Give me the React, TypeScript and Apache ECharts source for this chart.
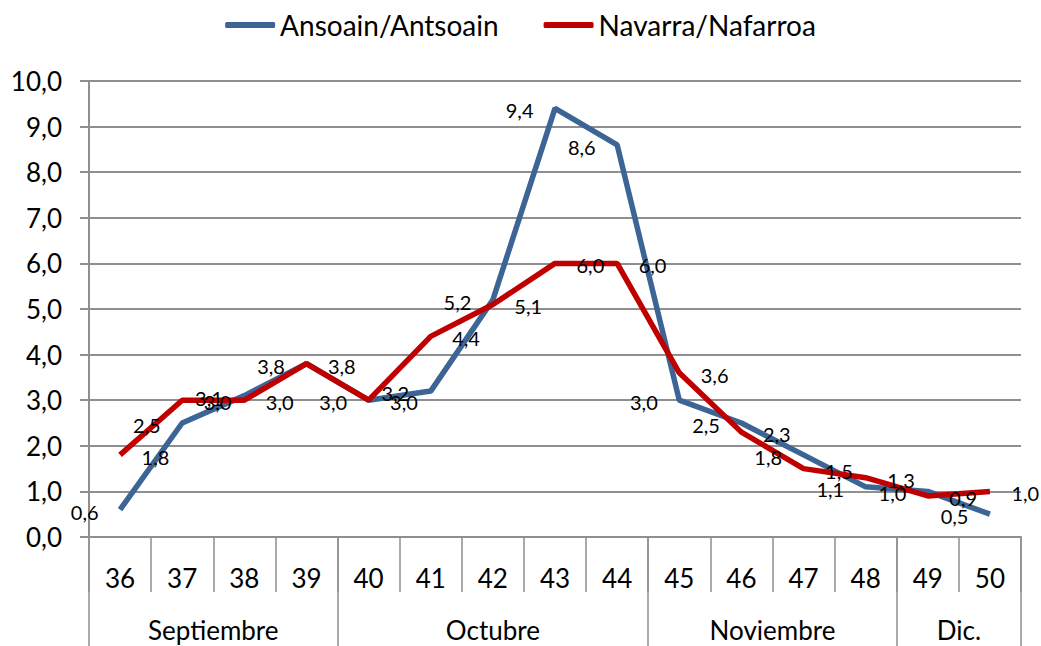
import React, { useEffect, useRef } from "react";
import * as echarts from "echarts";

const weeks = ["36", "37", "38", "39", "40", "41", "42", "43", "44", "45", "46", "47", "48", "49", "50"];
const months = ["Septiembre", "Octubre", "Noviembre", "Dic."];
// number of weeks in each month group
const monthSpans = [4, 5, 4, 2];
const ansoain = [0.6, 2.5, 3.1, 3.8, 3.0, 3.2, 5.2, 9.4, 8.6, 3.0, 2.5, 1.8, 1.1, 1.0, 0.5];
const navarra = [1.8, 3.0, 3.0, 3.8, 3.0, 4.4, 5.1, 6.0, 6.0, 3.6, 2.3, 1.5, 1.3, 0.9, 1.0];
const seriesNames = ["Ansoain/Antsoain", "Navarra/Nafarroa"];
const seriesColors = ["#3C6596", "#C00000"];

const FONT = "Lato, 'Noto Sans', sans-serif";
const GRID_COLOR = "#8f8f8f";
const fmt = (v: number) => v.toFixed(1).replace(".", ",");

export default function App() {
  const ref = useRef<HTMLDivElement>(null);
  useEffect(() => {
    if (!ref.current) return;
    const chart = echarts.init(ref.current, null, { renderer: "svg" });
    const boundaries: number[] = [0];
    monthSpans.forEach((s) => boundaries.push(boundaries[boundaries.length - 1] + s));
    const centers: number[] = [];
    const centerName: Record<string, string> = {};
    monthSpans.forEach((s, i) => {
      const c = boundaries[i] + s / 2;
      centers.push(c);
      centerName[String(c)] = months[i];
    });
    const labelCommon = {
      show: true,
      distance: 21,
      offset: [0, 2],
      fontFamily: FONT,
      fontSize: 20,
      color: "#000",
      opacity: 1,
      formatter: (p: any) => fmt(p.value),
    };
    const mkSeries = (i: number, data: number[], pos: string) => ({
      name: seriesNames[i],
      type: "line",
      data,
      symbol: "circle",
      symbolSize: 1,
      showSymbol: true,
      itemStyle: { color: "rgba(0,0,0,0)", borderColor: "rgba(0,0,0,0)", borderWidth: 0 },
      lineStyle: { width: 5.5, color: seriesColors[i] },
      label: { ...labelCommon, position: pos },
    });
    chart.setOption({
      animation: false,
      textStyle: { fontFamily: FONT },
      legend: {
        top: 6,
        left: "center",
        itemWidth: 50,
        itemHeight: 6,
        itemGap: 45,
        textStyle: { fontFamily: FONT, fontSize: 28, color: "#000" },
        data: seriesNames.map((n, i) => ({
          name: n,
          icon: "roundRect",
          itemStyle: { color: seriesColors[i], borderWidth: 0, opacity: 1 },
        })),
      },
      grid: { left: 89, right: 20, top: 81, bottom: 109, containLabel: false },
      xAxis: [
        {
          type: "category",
          data: weeks,
          boundaryGap: true,
          axisLine: { show: true, lineStyle: { color: GRID_COLOR, width: 2 } },
          axisTick: { show: true, interval: 0, length: 55, lineStyle: { color: GRID_COLOR, width: 1.5 } },
          axisLabel: { interval: 0, margin: 28, fontFamily: FONT, fontSize: 26, color: "#000" },
          splitLine: { show: false },
        },
        {
          type: "value",
          min: 0,
          max: 15,
          position: "bottom",
          axisLine: { show: false },
          splitLine: { show: false },
          axisTick: {
            show: true,
            customValues: boundaries,
            length: 112,
            lineStyle: { color: GRID_COLOR, width: 1.5 },
          },
          axisLabel: {
            show: true,
            customValues: centers,
            margin: 80,
            fontFamily: FONT,
            fontSize: 26,
            color: "#000",
            formatter: (v: number) => centerName[String(v)] || "",
          },
        },
      ],
      yAxis: {
        type: "value",
        min: 0,
        max: 10,
        interval: 1,
        axisLine: { show: true, lineStyle: { color: GRID_COLOR, width: 2 } },
        axisTick: { show: true, length: 9, lineStyle: { color: GRID_COLOR, width: 2 } },
        axisLabel: { margin: 27, fontFamily: FONT, fontSize: 26, color: "#000", formatter: (v: number) => fmt(v) },
        splitLine: { show: true, lineStyle: { color: GRID_COLOR, width: 2 } },
      },
      series: [mkSeries(0, ansoain, "left"), mkSeries(1, navarra, "right")],
    });
    return () => chart.dispose();
  }, []);
  return <div ref={ref} style={{ position: "absolute", left: 0, top: 0, width: 1041, height: 646, background: "#fff" }} />;
}
